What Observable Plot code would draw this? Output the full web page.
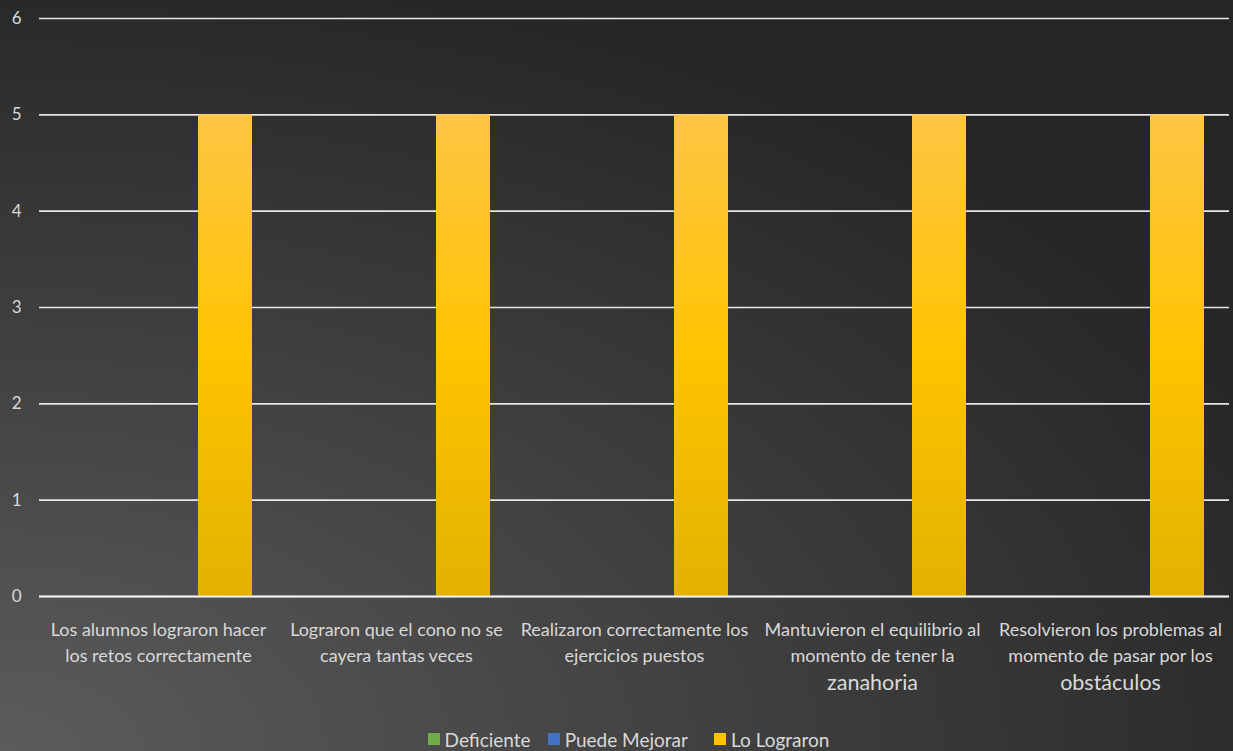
<!DOCTYPE html>
<html>
<head>
<meta charset="utf-8">
<script src="https://cdn.jsdelivr.net/npm/d3@7"></script>
<script src="https://cdn.jsdelivr.net/npm/@observablehq/plot@0.6"></script>
<style>
  html, body { margin: 0; padding: 0; }
  body {
    width: 1233px; height: 751px; overflow: hidden;
    background: radial-gradient(ellipse 140% 130% at 0% 100%, #5c5c5c 0%, #3e3e3e 45%, #272727 80%, #252525 100%);
    font-family: Lato, "Open Sans", sans-serif;
  }
  #chart svg { display: block; background: transparent; }
  #legend {
    position: absolute; top: 727px; left: 0; width: 1233px; height: 24px;
    display: flex; justify-content: center; align-items: center;
    color: #d9d9d9; font-size: 19px; font-family: Lato, "Open Sans", sans-serif;
    padding-left: 24px; box-sizing: border-box;
  }
  .item { display: flex; align-items: center; }
  .sw { width: 12px; height: 12px; margin-right: 5px; }
</style>
</head>
<body>
<div id="chart"></div>
<div id="legend"></div>
<script>
const categories = [
  "Los alumnos lograron hacer los retos correctamente",
  "Lograron que el cono no se cayera tantas veces",
  "Realizaron correctamente los ejercicios puestos",
  "Mantuvieron el equilibrio al momento de tener la zanahoria",
  "Resolvieron los problemas al momento de pasar por los obstáculos"
];
const labelLines = [
  "Los alumnos lograron hacer\nlos retos correctamente",
  "Lograron que el cono no se\ncayera tantas veces",
  "Realizaron correctamente los\nejercicios puestos",
  "Mantuvieron el equilibrio al\nmomento de tener la",
  "Resolvieron los problemas al\nmomento de pasar por los"
];
const labelThird = ["", "", "", "zanahoria", "obstáculos"];
const series = ["Deficiente", "Puede Mejorar", "Lo Lograron"];
const deficiente = [0, 0, 0, 0, 0];
const puedeMejorar = [0, 0, 0, 0, 0];
const loLograron = [5, 5, 5, 5, 5];
const colors = ["#70ad47", "#4472c4", "#ffc000"];
const fills = ["#70ad47", "#4472c4", "url(#goldGrad)"];
const yTicks = [0, 1, 2, 3, 4, 5, 6];

const seriesValues = [deficiente, puedeMejorar, loLograron];
const data = [];
categories.forEach((c, i) => {
  series.forEach((s, j) => data.push({cat: c, series: s, value: seriesValues[j][i]}));
});
const labels = categories.map((c, i) => ({cat: c, l12: labelLines[i], l3: labelThird[i]}));

const plot = Plot.plot({
  width: 1233,
  height: 720,
  marginLeft: 38,
  marginRight: 3,
  marginTop: 18,
  marginBottom: 124,
  style: {background: "transparent", color: "#d9d9d9", fontSize: "17px", fontFamily: "Lato, 'Open Sans', sans-serif"},
  fx: {domain: categories, axis: null, paddingInner: 0, paddingOuter: 0},
  x: {domain: series, axis: null, paddingInner: 0.2, paddingOuter: 0.366},
  y: {domain: [0, 6], ticks: yTicks, tickSize: 0, tickPadding: 18, label: null, tickFormat: d => d},
  marks: [
    Plot.gridY(yTicks, {stroke: "#e6e6e6", strokeOpacity: 1, strokeWidth: 1.6}),
    Plot.barY(data, {fx: "cat", x: "series", y: "value", fill: d => fills[series.indexOf(d.series)]}),
    Plot.ruleY([0], {stroke: "#f0f0f0", strokeWidth: 2}),
    Plot.text(labels, {fx: "cat", text: "l12", frameAnchor: "bottom", lineAnchor: "top", dy: 21, lineHeight: 1.45, fill: "#d9d9d9", fontSize: 18}),
    Plot.text(labels, {fx: "cat", text: "l3", frameAnchor: "bottom", lineAnchor: "top", dy: 78, fill: "#d9d9d9", fontSize: 21.5})
  ]
});

const svg = d3.select(plot);
const defs = svg.insert("defs", ":first-child");
const g = defs.append("linearGradient").attr("id", "goldGrad").attr("x1", 0).attr("y1", 0).attr("x2", 0).attr("y2", 1);
g.append("stop").attr("offset", "0%").attr("stop-color", "#ffc544");
g.append("stop").attr("offset", "50%").attr("stop-color", "#fec400");
g.append("stop").attr("offset", "100%").attr("stop-color", "#e3b100");

document.getElementById("chart").appendChild(plot);

const legend = document.getElementById("legend");
series.forEach((s, i) => {
  const it = document.createElement("div");
  it.className = "item";
  it.style.marginRight = i === 1 ? "26px" : (i === 0 ? "17px" : "0");
  const sw = document.createElement("div");
  sw.className = "sw";
  sw.style.background = colors[i];
  const t = document.createElement("span");
  t.textContent = s;
  it.appendChild(sw); it.appendChild(t);
  legend.appendChild(it);
});
</script>
</body>
</html>
